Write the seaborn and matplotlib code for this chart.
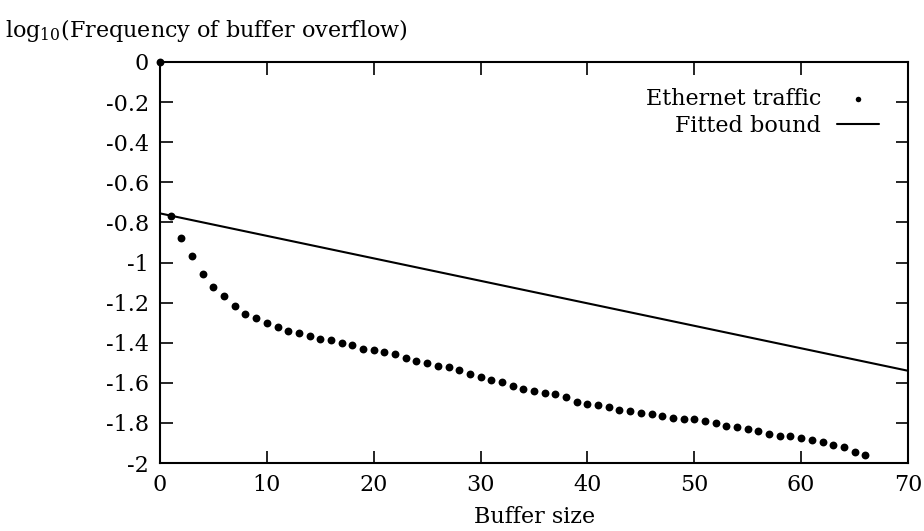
import matplotlib
matplotlib.use("Agg")
import matplotlib.pyplot as plt
import seaborn as sns
import numpy as np
import pandas as pd

# ---- data ----
buffer_size = list(range(0, 67))
log_freq = [0.0,
    -0.768, -0.876, -0.968, -1.055, -1.121, -1.169, -1.216, -1.256, -1.279, -1.300,
    -1.324, -1.340, -1.350, -1.367, -1.380, -1.385, -1.401, -1.412, -1.431, -1.436,
    -1.444, -1.458, -1.475, -1.489, -1.503, -1.516, -1.522, -1.535, -1.556, -1.569,
    -1.585, -1.594, -1.615, -1.630, -1.641, -1.649, -1.654, -1.673, -1.694, -1.707,
    -1.713, -1.723, -1.735, -1.741, -1.749, -1.757, -1.768, -1.776, -1.780, -1.783,
    -1.790, -1.801, -1.813, -1.819, -1.828, -1.839, -1.856, -1.864, -1.867, -1.873,
    -1.885, -1.894, -1.912, -1.919, -1.943, -1.958]
fit_x = [0, 70]
fit_y = [-0.755, -1.54]

x_ticks = [0, 10, 20, 30, 40, 50, 60, 70]
y_ticks = [0, -0.2, -0.4, -0.6, -0.8, -1, -1.2, -1.4, -1.6, -1.8, -2]
y_tick_labels = ["0", "-0.2", "-0.4", "-0.6", "-0.8", "-1", "-1.2", "-1.4", "-1.6", "-1.8", "-2"]

sns.set_theme(style="ticks")
plt.rcParams['font.family'] = ['DejaVu Serif']
plt.rcParams['axes.unicode_minus'] = False
plt.rcParams['mathtext.fontset'] = 'dejavuserif'
plt.rcParams['text.color'] = 'black'
plt.rcParams['axes.labelcolor'] = 'black'
plt.rcParams['xtick.color'] = 'black'
plt.rcParams['ytick.color'] = 'black'

fig = plt.figure(figsize=(9.24, 5.31), dpi=100)
ax = fig.add_axes([160/924, 1-463/531, (908-160)/924, (463-62)/531])

df = pd.DataFrame({"x": buffer_size, "y": log_freq})
dfit = pd.DataFrame({"x": fit_x, "y": fit_y})

sns.scatterplot(data=df, x="x", y="y", ax=ax, color="black", s=32, edgecolor="black",
                linewidth=0, label="Ethernet traffic", clip_on=False, zorder=3)
sns.lineplot(data=dfit, x="x", y="y", ax=ax, color="black", linewidth=1.5,
             label="Fitted bound", clip_on=False)

ax.set_xlim(0, 70)
ax.set_ylim(-2, 0)
ax.set_xticks(x_ticks)
ax.set_xticklabels([str(v) for v in x_ticks])
ax.set_yticks(y_ticks)
ax.set_yticklabels(y_tick_labels)
ax.tick_params(direction="in", top=True, right=True, length=9, width=1.2,
               labelsize=16, colors="black", pad=8)
ax.set_xlabel("")
ax.set_ylabel("")
for sp in ax.spines.values():
    sp.set_linewidth(1.5)
    sp.set_color("black")

leg = ax.legend(loc="upper right", bbox_to_anchor=(879/924, 1-88/531),
                bbox_transform=fig.transFigure, frameon=False, markerfirst=False,
                fontsize=16, handlelength=1.9, handletextpad=0.7, labelspacing=0.22,
                borderpad=0, borderaxespad=0, markerscale=0.7)
for t in leg.get_texts():
    t.set_color("black")

fig.text(5/924, 1-30/531, r"log$_{10}$(Frequency of buffer overflow)", fontsize=16,
         ha="left", va="center", color="black")
fig.text(535/924, 1-517/531, "Buffer size", fontsize=16, ha="center", va="center",
         color="black")

fig.savefig("out.png", dpi=100, facecolor="white")
